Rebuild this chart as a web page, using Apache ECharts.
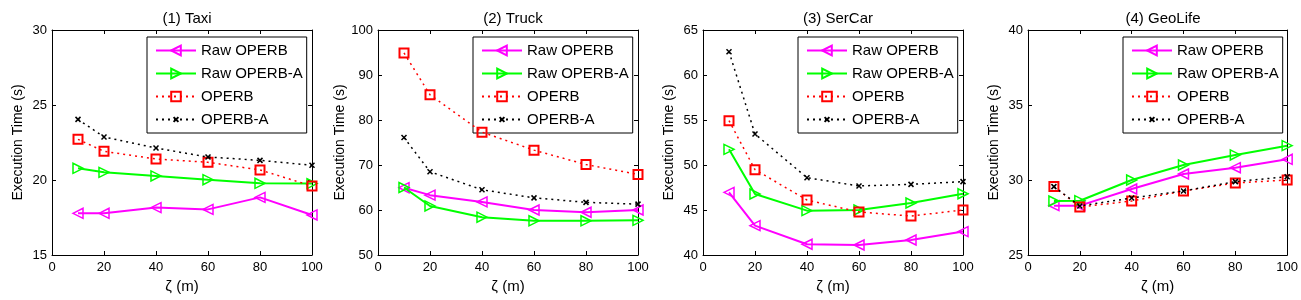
<!DOCTYPE html>
<html>
<head>
<meta charset="utf-8">
<script src="https://cdn.jsdelivr.net/npm/echarts@6/dist/echarts.min.js"></script>
<style>
html,body{margin:0;padding:0;background:#fff;}
#c{width:1301px;height:300px;}
</style>
</head>
<body>
<div id="c"></div>
<script>
// ---- data ----
const xValues = [10, 20, 40, 60, 80, 100];
const seriesNames = ['Raw OPERB', 'Raw OPERB-A', 'OPERB', 'OPERB-A'];
const panelTitles = ['(1) Taxi', '(2) Truck', '(3) SerCar', '(4) GeoLife'];
const yMins = [15, 50, 40, 25];
const yMaxs = [30, 100, 65, 40];
const yIntervals = [5, 10, 5, 5];

const taxiRawOperb   = [17.78, 17.78, 18.16, 18.04, 18.84, 17.67];
const taxiRawOperbA  = [20.78, 20.51, 20.27, 20.02, 19.78, 19.76];
const taxiOperb      = [22.71, 21.91, 21.40, 21.18, 20.67, 19.60];
const taxiOperbA     = [24.04, 22.87, 22.13, 21.53, 21.31, 20.98];

const truckRawOperb  = [64.96, 63.3, 61.8, 60.0, 59.5, 60.0];
const truckRawOperbA = [65.0, 60.9, 58.4, 57.6, 57.6, 57.7];
const truckOperb     = [94.9, 85.6, 77.3, 73.3, 70.1, 67.9];
const truckOperbA    = [76.1, 68.5, 64.5, 62.7, 61.7, 61.3];

const sercarRawOperb  = [46.96, 43.26, 41.19, 41.11, 41.67, 42.6];
const sercarRawOperbA = [51.74, 46.78, 44.93, 45.0, 45.78, 46.81];
const sercarOperb     = [54.93, 49.48, 46.11, 44.78, 44.33, 45.0];
const sercarOperbA    = [62.59, 53.44, 48.59, 47.67, 47.85, 48.15];

const geoRawOperb  = [28.29, 28.29, 29.4, 30.4, 30.82, 31.38];
const geoRawOperbA = [28.6, 28.62, 30.0, 31.0, 31.67, 32.29];
const geoOperb     = [29.56, 28.2, 28.6, 29.27, 29.8, 30.0];
const geoOperbA    = [29.56, 28.27, 28.8, 29.27, 29.89, 30.22];

const panelData = [
  [taxiRawOperb, taxiRawOperbA, taxiOperb, taxiOperbA],
  [truckRawOperb, truckRawOperbA, truckOperb, truckOperbA],
  [sercarRawOperb, sercarRawOperbA, sercarOperb, sercarOperbA],
  [geoRawOperb, geoRawOperbA, geoOperb, geoOperbA]
];

// ---- styling / layout ----
const FONT = 'Liberation Sans, Arial, sans-serif';
const plotLefts = [52, 378, 703, 1028];
const plotWidth = 260, plotTop = 30, plotHeight = 225;

// the "x" marker path carries invisible move-to padding so it stays small inside the legend too
const styles = [
  {color: '#ff00ff', line: 'solid', width: 2, symbol: 'triangle', rotate: 90, size: 10, bw: 1.5},
  {color: '#00ff00', line: 'solid', width: 2, symbol: 'triangle', rotate: -90, size: 10, bw: 1.5},
  {color: '#ff0000', line: [2, 4], width: 1.5, symbol: 'rect', rotate: 0, size: 9, bw: 2},
  {color: '#000000', line: [2, 4], width: 1.5, symbol: 'path://M-5,-5M0,0L10,10M0,10L10,0M15,15', rotate: 0, size: 10, bw: 1.5}
];

const grid = [], xAxis = [], yAxis = [], series = [], title = [], legend = [];
const axisLineStyle = {show: true, onZero: false, lineStyle: {color: '#000', width: 1}};
const tickStyle = {show: true, inside: true, length: 4, lineStyle: {color: '#000', width: 1}};

for (let p = 0; p < 4; p++) {
  grid.push({left: plotLefts[p], top: plotTop, width: plotWidth, height: plotHeight, containLabel: false});
  xAxis.push({
    type: 'value', gridIndex: p, min: 0, max: 100, interval: 20, position: 'bottom',
    axisLine: axisLineStyle, axisTick: tickStyle, splitLine: {show: false},
    axisLabel: {color: '#000', fontSize: 13, fontFamily: FONT, margin: 6},
    name: 'ζ (m)', nameLocation: 'middle', nameGap: 23,
    nameTextStyle: {color: '#000', fontSize: 15, fontFamily: FONT}
  });
  xAxis.push({
    type: 'value', gridIndex: p, min: 0, max: 100, interval: 20, position: 'top',
    axisLine: axisLineStyle, axisTick: tickStyle, splitLine: {show: false},
    axisLabel: {show: false}
  });
  yAxis.push({
    type: 'value', gridIndex: p, min: yMins[p], max: yMaxs[p], interval: yIntervals[p], position: 'left',
    axisLine: axisLineStyle, axisTick: tickStyle, splitLine: {show: false},
    axisLabel: {color: '#000', fontSize: 13, fontFamily: FONT, margin: 5},
    name: 'Execution Time (s)', nameLocation: 'middle', nameGap: 27,
    nameTextStyle: {color: '#000', fontSize: 14, fontFamily: FONT}
  });
  yAxis.push({
    type: 'value', gridIndex: p, min: yMins[p], max: yMaxs[p], interval: yIntervals[p], position: 'right',
    axisLine: axisLineStyle, axisTick: tickStyle, splitLine: {show: false},
    axisLabel: {show: false}
  });
  title.push({
    text: panelTitles[p], left: plotLefts[p] + plotWidth / 2, top: 6, textAlign: 'center',
    textStyle: {color: '#000', fontSize: 15, fontWeight: 'normal', fontFamily: FONT}
  });
  legend.push({
    left: plotLefts[p] + 95, top: 37, orient: 'vertical',
    data: seriesNames,
    backgroundColor: '#fff', borderColor: '#000', borderWidth: 1, borderRadius: 0,
    padding: [6, 4, 6, 8], itemWidth: 40, itemHeight: 12, itemGap: 8,
    textStyle: {color: '#000', fontSize: 15, fontFamily: FONT, padding: [0, 0, 0, 0]},
    selectedMode: false
  });
  for (let s = 0; s < 4; s++) {
    const st = styles[s];
    series.push({
      name: seriesNames[s], type: 'line', xAxisIndex: 2 * p, yAxisIndex: 2 * p,
      data: xValues.map((x, i) => [x, panelData[p][s][i]]),
      color: st.color,
      symbol: st.symbol, symbolSize: st.size, symbolRotate: st.rotate,
      showAllSymbol: true, animation: false,
      lineStyle: {color: st.color, width: st.width, type: st.line},
      itemStyle: {color: 'none', borderColor: st.color, borderWidth: st.bw},
      emphasis: {disabled: true},
      z: 2 + s
    });
  }
}

const chart = echarts.init(document.getElementById('c'), null, {renderer: 'canvas'});
chart.setOption({
  backgroundColor: '#fff', animation: false,
  grid, xAxis, yAxis, series, title, legend
});
</script>
</body>
</html>
